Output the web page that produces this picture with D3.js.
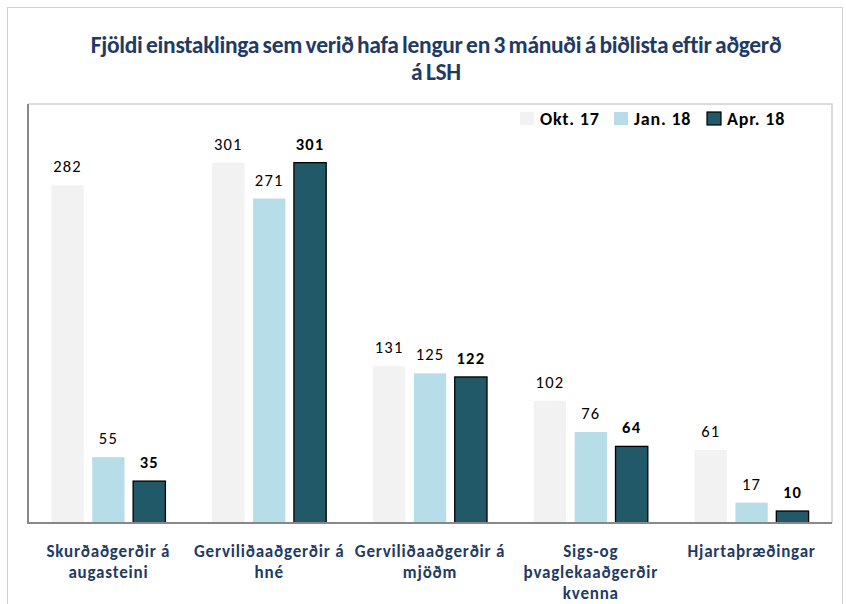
<!DOCTYPE html>
<html>
<head>
<meta charset="utf-8">
<script src="https://cdn.jsdelivr.net/npm/d3@7/dist/d3.min.js"></script>
<style>
  html, body { margin: 0; padding: 0; background: #fff; }
  svg { display: block; }
  text { font-family: Carlito, "Liberation Sans", sans-serif; }
</style>
</head>
<body>
<svg id="chart" width="846" height="604"></svg>
<script>
// Patients waiting more than 3 months, by procedure
const categories = [
  ["Skurðaðgerðir á", "augasteini"],
  ["Gerviliðaaðgerðir á", "hné"],
  ["Gerviliðaaðgerðir á", "mjöðm"],
  ["Sigs-og", "þvaglekaaðgerðir", "kvenna"],
  ["Hjartaþræðingar"]
];
const seriesNames = ["Okt. 17", "Jan. 18", "Apr. 18"];
const okt17 = [282, 301, 131, 102, 61];
const jan18 = [55, 271, 125, 76, 17];
const apr18 = [35, 301, 122, 64, 10];
const seriesValues = [okt17, jan18, apr18];
const colors = ["#f2f2f2", "#b7dee8", "#215968"];
const titleLines = ["Fjöldi einstaklinga sem verið hafa lengur en 3 mánuði á biðlista eftir aðgerð", "á LSH"];

const svg = d3.select("#chart");
const plot = { left: 28, right: 832, top: 104, bottom: 523 };

// outer chart frame
svg.append("rect")
  .attr("x", 7.5).attr("y", 7.5).attr("width", 835).attr("height", 610)
  .attr("fill", "#fff").attr("stroke", "#d0d0d0").attr("stroke-width", 1);

// title
svg.append("g").selectAll("text").data(titleLines).join("text")
  .attr("x", 436).attr("y", (d, i) => 53 + i * 27)
  .attr("text-anchor", "middle")
  .attr("fill", "#1f3b63")
  .attr("font-weight", "bold").attr("font-size", 23.5)
  .attr("letter-spacing", -0.3)
  .attr("word-spacing", -1.5)
  .text(d => d);

// plot area border: light top/right, darker left/bottom
svg.append("path")
  .attr("d", `M${plot.left},${plot.top}H${plot.right}V${plot.bottom}`)
  .attr("fill", "none").attr("stroke", "#d0d0d0").attr("stroke-width", 1.5);

const idx = d3.range(categories.length);
const x0 = d3.scaleBand().domain(idx).range([plot.left, plot.right]).paddingInner(0).paddingOuter(0);
const x1 = d3.scaleBand().domain(d3.range(seriesNames.length)).range([0, 114]).paddingInner(0.21);
const y = d3.scaleLinear().domain([0, 350]).range([plot.bottom, plot.top]);

const groups = svg.append("g").selectAll("g").data(idx).join("g")
  .attr("transform", i => `translate(${x0(i) + x0.bandwidth() / 2 - 57},0)`);

groups.selectAll("rect").data(i => seriesValues.map((s, k) => ({ k, v: s[i] }))).join("rect")
  .attr("x", d => x1(d.k))
  .attr("y", d => y(d.v))
  .attr("width", x1.bandwidth())
  .attr("height", d => y(0) - y(d.v))
  .attr("fill", d => colors[d.k])
  .attr("stroke", d => d.k === 2 ? "#000" : "none")
  .attr("stroke-width", 1.3);

groups.selectAll("text.val").data(i => seriesValues.map((s, k) => ({ k, v: s[i] }))).join("text")
  .attr("class", "val")
  .attr("x", d => x1(d.k) + x1.bandwidth() / 2)
  .attr("y", d => y(d.v) - 13)
  .attr("text-anchor", "middle")
  .attr("font-size", 16.5)
  .attr("letter-spacing", 1.2)
  .attr("font-weight", d => d.k === 2 ? "bold" : "normal")
  .attr("fill", "#000")
  .text(d => d.v);

// axes lines (left and bottom)
svg.append("path")
  .attr("d", `M${plot.left},${plot.top}V${plot.bottom}H${plot.right}`)
  .attr("fill", "none").attr("stroke", "#888").attr("stroke-width", 2);

// category axis (labels drawn below with wrapping)
const xAxis = d3.axisBottom(x0).tickSize(0).tickFormat("");
svg.append("g").attr("transform", `translate(0,${plot.bottom})`).call(xAxis)
  .call(g => g.select(".domain").remove());

svg.append("g").selectAll("text").data(idx).join("text")
  .attr("x", i => x0(i) + x0.bandwidth() / 2)
  .attr("y", 557)
  .attr("text-anchor", "middle")
  .attr("fill", "#1f3b63")
  .attr("font-weight", "bold").attr("font-size", 17)
  .attr("letter-spacing", 0.8)
  .each(function (i) {
    d3.select(this).selectAll("tspan").data(categories[i]).join("tspan")
      .attr("x", x0(i) + x0.bandwidth() / 2)
      .attr("dy", (d, j) => j === 0 ? 0 : 21)
      .text(d => d);
  });

// legend
const legendX = [520, 614, 707];
const legend = svg.append("g").selectAll("g").data(seriesNames).join("g")
  .attr("transform", (d, i) => `translate(${legendX[i]},112)`);
legend.append("rect")
  .attr("width", 14).attr("height", 13)
  .attr("fill", (d, i) => colors[i])
  .attr("stroke", (d, i) => i === 2 ? "#000" : "none").attr("stroke-width", 1.2);
legend.append("text")
  .attr("x", 20).attr("y", 13)
  .attr("font-weight", "bold").attr("font-size", 18).attr("fill", "#000")
  .attr("letter-spacing", 0.8)
  .text(d => d);
</script>
</body>
</html>
